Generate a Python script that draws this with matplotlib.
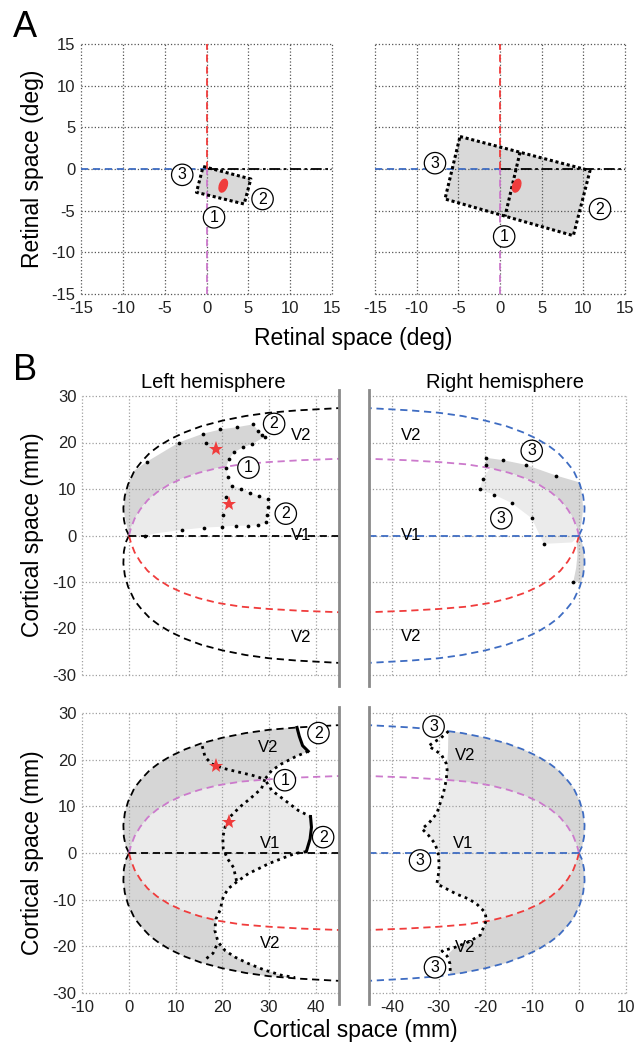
import numpy as np
import matplotlib
matplotlib.use('Agg')
import matplotlib.pyplot as plt
from matplotlib.patches import Ellipse

plt.rcParams['font.family'] = ['Liberation Sans', 'DejaVu Sans']
plt.rcParams['axes.unicode_minus'] = False

BLUE = '#3e6cc2'
RED = '#f03c3c'
MAGENTA = '#cc7acc'
DARK = '#d6d6d6'
LIGHT = '#ebebeb'
DASH = (0, (4, 2.6))
DOTS = (0, (1, 1.5))

# ---------------- panel A: retinal space (deg) ----------------
ret_ticks = [-15, -10, -5, 0, 5, 10, 15]
small_rect_x = [-0.4, 5.3, 4.5, -1.2]
small_rect_y = [0.3, -1.2, -4.2, -2.8]
big_rect_x = [-4.8, 10.8, 8.8, -6.6]
big_rect_y = [3.9, -0.2, -8.0, -3.6]
big_mid_x = [2.4, 0.6]
big_mid_y = [2.0, -5.7]
fix_xy = (2.0, -2.0)
a_left_labels = [('3', -2.9, -0.7), ('2', 6.7, -3.6), ('1', 0.9, -5.8)]
a_right_labels = [('3', -7.8, 0.7), ('2', 12.0, -4.8), ('1', 0.5, -8.1)]

# ---------------- panel B: cortical space (mm) ----------------
# outer V2 border, upper half, left hemisphere (mirrored for the other halves)
v2_x = [0.0, -0.7, -1.1, -1.2, -0.9, -0.2, 1.2, 2.8, 4.5, 6.5, 9.0, 12.0, 15.5, 20.0, 25.0, 30.0, 36.0, 45.0]
v2_y = [0.0, 1.5, 3.5, 6.0, 8.5, 11.0, 14.0, 16.0, 17.8, 19.3, 20.8, 22.2, 23.5, 24.7, 25.7, 26.4, 26.9, 27.4]
# vertical meridian (V1/V2 border), upper half
vm_x = [0.0, 0.4, 1.2, 2.4, 4.0, 6.0, 8.5, 11.5, 15.0, 19.0, 24.0, 30.0, 37.0, 45.0]
vm_y = [0.0, 1.5, 3.6, 5.6, 7.6, 9.3, 10.9, 12.3, 13.5, 14.5, 15.3, 15.8, 16.2, 16.5]

cort_y_ticks = [-30, -20, -10, 0, 10, 20, 30]
left_x_ticks = [-10, 0, 10, 20, 30, 40]
right_x_ticks = [-40, -30, -20, -10, 0, 10]

# top left: small stimulus
tl_dark_x = [-1.2, -0.9, -0.2, 1.2, 3.9, 10.7, 15.9, 19.6, 23.2, 26.6, 27.7, 29.1, 26.4, 24.5, 22.5, 21.4, 20.8]
tl_dark_y = [5.5, 8.5, 11.0, 14.0, 15.9, 20.0, 21.9, 22.8, 23.3, 23.9, 22.5, 21.2, 19.7, 19.0, 17.9, 16.4, 14.6]
tl_light_x = [20.8, 21.3, 22.1, 24.1, 25.9, 27.9, 29.8, 29.7, 29.5, 29.3, 27.7, 25.6, 22.9, 20.0, 16.1, 11.3, 6.0, 3.4]
tl_light_y = [14.6, 12.5, 10.6, 10.1, 9.2, 8.5, 7.8, 6.2, 4.4, 2.8, 2.2, 2.1, 2.1, 1.9, 1.7, 1.2, 0.5, -0.1]
tl_dots_x = [3.9, 10.7, 15.9, 19.6, 23.2, 26.6, 27.7, 28.4, 29.1, 26.4, 24.5, 22.5, 21.4, 20.8, 16.4, 18.6,
             21.3, 22.1, 24.1, 25.9, 27.9, 29.8, 29.7, 29.5, 29.3, 27.7, 25.6, 22.9, 20.0, 16.1, 11.3, 3.4, 20.2, 20.8]
tl_dots_y = [15.9, 20.0, 21.9, 22.8, 23.3, 23.9, 22.5, 21.7, 21.2, 19.7, 19.0, 17.9, 16.4, 14.6, 19.9, 18.6,
             12.5, 10.6, 10.1, 9.2, 8.5, 7.8, 6.2, 4.4, 2.8, 2.2, 2.1, 2.1, 1.9, 1.7, 1.2, -0.1, 4.4, 8.2]
tl_labels = [('2', 31.1, 24.0), ('1', 25.6, 14.6), ('2', 33.6, 4.7)]

# top right
tr_dark_x = [-19.8, -16.2, -11.4, -4.9, 0.2, 0.6, 0.9, 0.6, 0.0]
tr_dark_y = [16.7, 16.2, 15.2, 12.9, 11.4, 9.0, 6.0, 3.0, 0.0]
tr_light_x = [-20.6, -21.2, -18.2, -14.4, -10.1, -7.5, -1.5]
tr_light_y = [12.2, 9.9, 8.8, 7.0, 3.7, -1.8, -1.5]
tr_sliver_x = [0.0, 0.8, 1.2, 1.0, 0.5, -1.2, -0.6, -0.3, -0.5]
tr_sliver_y = [0.0, -2.0, -5.0, -8.0, -10.0, -9.9, -7.0, -4.0, -1.5]
tr_dots_x = [-19.8, -16.2, -11.4, -4.9, -19.9, -20.6, -21.2, -18.2, -14.4, -10.1, -7.5, -1.2]
tr_dots_y = [16.7, 16.2, 15.2, 12.9, 15.2, 12.2, 9.9, 8.8, 7.0, 3.7, -1.8, -9.9]
tr_labels = [('3', -10.1, 18.2), ('3', -16.6, 3.7)]

# bottom left: large stimulus
bl_up_x = [36.5, 37.2, 38.4, 35.6, 32.7, 30.6, 29.1]
bl_up_y = [25.0, 23.0, 21.8, 20.6, 19.1, 17.7, 15.8]
bl_v1_x = [30.6, 33.4, 36.3, 38.9, 39.1, 38.8, 38.0, 35.6, 32.7, 29.9, 27.7, 25.6, 23.1, 21.3, 20.2, 19.5, 18.6]
bl_v1_y = [13.4, 11.3, 9.1, 7.8, 5.5, 3.0, 0.3, -0.1, -1.2, -2.3, -3.4, -4.4, -6.2, -7.6, -9.4, -12.3, -14.2]
bl_low_x = [18.4, 19.1, 20.6, 22.7, 25.6, 29.1, 32.7, 35.6]
bl_low_y = [-16.6, -19.1, -20.9, -22.3, -23.7, -25.1, -26.2, -26.7]
bl_star_v2_x = [15.7, 16.3, 17.7, 20.0, 22.0, 24.5, 26.6, 29.1]
bl_star_v2_y = [22.9, 20.6, 19.1, 18.2, 17.7, 17.1, 16.6, 15.8]
bl_star_v1_x = [29.1, 28.4, 25.9, 23.8, 21.6, 20.6, 20.1, 20.2, 21.1, 22.4, 23.1]
bl_star_v1_y = [15.8, 13.8, 11.6, 9.9, 7.7, 5.6, 3.4, 0.9, -1.2, -3.1, -6.2]
bl_stub_x = [16.6, 18.0, 19.1]
bl_stub_y = [-22.6, -21.5, -19.1]
bl_labels = [('2', 40.6, 25.7), ('1', 33.4, 15.6), ('2', 41.6, 3.4)]

# bottom right
br_up_x = [-27.9, -28.0, -28.2, -28.4]
br_up_y = [26.1, 22.0, 17.8, 15.6]
br_v1_x = [-29.0, -30.4, -32.2, -33.6, -32.2, -30.8, -30.1, -29.9, -30.1, -30.4, -28.3, -26.2, -23.7, -21.9, -20.1, -19.8]
br_v1_y = [12.8, 8.5, 6.3, 5.2, 3.8, 2.0, -0.1, -2.7, -4.8, -6.6, -7.7, -8.8, -9.8, -10.9, -12.7, -14.4]
br_low_x = [-20.4, -21.1, -23.5, -26.5, -27.8, -27.6, -27.5]
br_low_y = [-15.9, -17.6, -19.0, -20.2, -21.5, -23.7, -26.1]
br_dot_top_x = [-27.9, -29.6, -31.1, -32.2, -30.7, -29.4, -28.4, -28.2, -28.4]
br_dot_top_y = [26.1, 24.6, 23.7, 22.9, 22.0, 21.0, 19.2, 17.8, 15.6]
br_dot_low_x = [-19.8, -20.4, -21.1, -23.5, -26.5, -29.3, -28.2, -27.6, -27.5]
br_dot_low_y = [-14.4, -15.9, -17.6, -19.0, -20.2, -21.0, -22.1, -23.7, -26.1]
br_labels = [('3', -31.1, 27.1), ('3', -34.0, -1.6), ('3', -30.8, -24.5)]

stars_x = [18.7, 21.4]
stars_y = [18.7, 6.7]

v_labels_left = [('V2', 36.8, 21.5), ('V1', 36.8, 0.0), ('V2', 36.8, -21.9)]
v_labels_right = [('V2', -35.8, 21.6), ('V1', -35.8, 0.0), ('V2', -35.8, -21.8)]
v_labels_bl = [('V2', 29.9, 22.5), ('V1', 30.2, 2.0), ('V2', 30.2, -19.5)]
v_labels_br = [('V2', -24.4, 21.0), ('V1', -24.7, 2.0), ('V2', -24.4, -20.2)]


def curve(xs, ys, lim, sx=1, sy=1):
    xs = np.asarray(xs, float)
    ys = np.asarray(ys, float)
    keep = np.abs(xs) <= lim
    return sx * xs[keep], sy * ys[keep]


def rev(c):
    return c[0][::-1], c[1][::-1]


def circ(ax, txt, x, y):
    ax.text(x, y, txt, ha='center', va='center', fontsize=11.5, zorder=8,
            bbox=dict(boxstyle='circle,pad=0.2', fc='white', ec='black', lw=0.9))


def style(ax, xt, yt, gridcol, xlab=True, ylab=True):
    ax.set_xticks(xt)
    ax.set_yticks(yt)
    ax.grid(True, ls=':', color=gridcol, lw=0.9)
    for s in ax.spines.values():
        s.set_visible(False)
    ax.tick_params(length=0, labelsize=12, colors='#222222')
    ax.tick_params(axis='x', pad=5)
    ax.tick_params(axis='y', pad=4)
    if not xlab:
        ax.set_xticklabels([])
    if not ylab:
        ax.set_yticklabels([])
    for gl in ax.get_xgridlines() + ax.get_ygridlines():
        gl.set_clip_on(False)


def poly(ax, pieces, color):
    xs = np.concatenate([np.asarray(p[0], float) for p in pieces])
    ys = np.concatenate([np.asarray(p[1], float) for p in pieces])
    ax.fill(xs, ys, facecolor=color, edgecolor='none', zorder=1)


def maps(ax, side):
    sx = 1 if side == 'L' else -1
    col = 'k' if side == 'L' else BLUE
    if side == 'L':
        ax.set_xlim(-10, 45)
    else:
        ax.set_xlim(-45, 10)
    ax.set_ylim(-30, 30)
    vx, vy = np.array(v2_x), np.array(v2_y)
    mx, my = np.array(vm_x), np.array(vm_y)
    ax.plot(sx * vx, vy, color=col, ls=DASH, lw=1.3, zorder=3)
    ax.plot(sx * vx, -vy, color=col, ls=DASH, lw=1.3, zorder=3)
    ax.plot(sx * mx, my, color=MAGENTA, ls=DASH, lw=1.3, zorder=3)
    ax.plot(sx * mx, -my, color=RED, ls=DASH, lw=1.3, zorder=3)
    ax.plot([0, sx * 45], [0, 0], color=col, ls=DASH, lw=1.3, zorder=3)
    ax.plot([sx * 45, sx * 45], [31.3, -32.3], color='#8a8a8a', lw=2.0, clip_on=False, zorder=4)


fig = plt.figure(figsize=(6.38, 10.42), dpi=100)
W, H = 638.0, 1042.0

# ---- panel A
axA1 = fig.add_axes([81 / W, 1 - 294 / H, 251 / W, 250 / H])
axA2 = fig.add_axes([375 / W, 1 - 294 / H, 250 / W, 250 / H])
for ax in (axA1, axA2):
    ax.set_xlim(-15, 15)
    ax.set_ylim(-15, 15)
    style(ax, ret_ticks, ret_ticks, '#555555', ylab=(ax is axA1))
    ax.plot([-15, 0], [0, 0], color=BLUE, ls=DASH, lw=1.3, zorder=3)
    ax.plot([0, 15], [0, 0], color='k', ls=(0, (6, 2, 1.5, 2)), lw=1.3, zorder=3)
    ax.plot([0, 0], [0, 15], color=RED, ls=DASH, lw=1.3, zorder=3)
    ax.plot([0, 0], [-15, 0], color=MAGENTA, ls=DASH, lw=1.3, zorder=3)
    ax.add_patch(Ellipse(fix_xy, 0.9, 1.6, angle=-20, color=RED, zorder=6))

axA1.fill(small_rect_x, small_rect_y, color='#d9d9d9', lw=0, zorder=1)
axA1.plot(small_rect_x + small_rect_x[:1], small_rect_y + small_rect_y[:1],
          color='k', ls=(0, (1, 0.9)), lw=2.2, zorder=5)
axA2.fill(big_rect_x, big_rect_y, color='#d9d9d9', lw=0, zorder=1)
axA2.plot(big_rect_x + big_rect_x[:1], big_rect_y + big_rect_y[:1],
          color='k', ls=(0, (1, 0.9)), lw=2.2, zorder=5)
axA2.plot(big_mid_x, big_mid_y, color='k', ls=(0, (1, 0.9)), lw=2.2, zorder=5)
for t, x, y in a_left_labels:
    circ(axA1, t, x, y)
for t, x, y in a_right_labels:
    circ(axA2, t, x, y)

# ---- panel B
axTL = fig.add_axes([82.3 / W, 1 - 675 / H, 256.7 / W, 279 / H])
axTR = fig.add_axes([368.6 / W, 1 - 675 / H, 257.1 / W, 279 / H])
axBL = fig.add_axes([82.3 / W, 1 - 993 / H, 256.7 / W, 280 / H])
axBR = fig.add_axes([368.6 / W, 1 - 993 / H, 257.1 / W, 280 / H])

style(axTL, left_x_ticks, cort_y_ticks, '#a0a0a0', xlab=False)
style(axTR, right_x_ticks, cort_y_ticks, '#a0a0a0', xlab=False, ylab=False)
style(axBL, left_x_ticks, cort_y_ticks, '#a0a0a0')
style(axBR, right_x_ticks, cort_y_ticks, '#a0a0a0', ylab=False)
for ax, side in ((axTL, 'L'), (axTR, 'R'), (axBL, 'L'), (axBR, 'R')):
    maps(ax, side)

# top left fills and dots
m_up = curve(vm_x, vm_y, 20.8)
poly(axTL, [(tl_dark_x, tl_dark_y), rev(m_up)], DARK)
poly(axTL, [m_up, (tl_light_x, tl_light_y)], LIGHT)
axTL.plot(tl_dots_x, tl_dots_y, 'o', color='k', ms=2.7, mew=0, zorder=5)
for t, x, y in tl_labels:
    circ(axTL, t, x, y)

# top right
m_up = curve(vm_x, vm_y, 20.3, sx=-1)
poly(axTR, [(tr_dark_x, tr_dark_y), m_up, ([-19.9], [15.2])], DARK)
poly(axTR, [m_up, (tr_light_x, tr_light_y)], LIGHT)
poly(axTR, [(tr_sliver_x, tr_sliver_y)], DARK)
axTR.plot(tr_dots_x, tr_dots_y, 'o', color='k', ms=2.7, mew=0, zorder=5)
for t, x, y in tr_labels:
    circ(axTR, t, x, y)

# bottom left: whole patch light, V2 parts dark on top
o_up = curve(v2_x, v2_y, 36.0)
m_up = curve(vm_x, vm_y, 29.0)
m_lo = curve(vm_x, vm_y, 18.5, sy=-1)
o_lo = curve(v2_x, v2_y, 35.5, sy=-1)
poly(axBL, [o_up, (bl_up_x, bl_up_y), (bl_v1_x, bl_v1_y), (bl_low_x, bl_low_y), rev(o_lo)], LIGHT)
poly(axBL, [o_up, (bl_up_x, bl_up_y), rev(m_up)], DARK)
poly(axBL, [m_lo, ([18.6], [-14.2]), (bl_low_x, bl_low_y), rev(o_lo)], DARK)
axBL.plot([36.0] + bl_up_x[:3], [26.9] + bl_up_y[:3], color='k', lw=2.2, zorder=5)
axBL.plot(bl_up_x[2:] + bl_v1_x[:4], bl_up_y[2:] + bl_v1_y[:4], color='k', ls=DOTS, lw=2.0, zorder=5)
axBL.plot(bl_v1_x[3:7], bl_v1_y[3:7], color='k', lw=2.2, zorder=5)
axBL.plot(bl_v1_x[6:] + bl_low_x, bl_v1_y[6:] + bl_low_y, color='k', ls=DOTS, lw=2.0, zorder=5)
axBL.plot(bl_star_v2_x, bl_star_v2_y, color='k', ls=DOTS, lw=2.0, zorder=5)
axBL.plot(bl_star_v1_x, bl_star_v1_y, color='k', ls=DOTS, lw=2.0, zorder=5)
axBL.plot(bl_stub_x, bl_stub_y, color='k', ls=DOTS, lw=2.0, zorder=5)
for t, x, y in bl_labels:
    circ(axBL, t, x, y)

# bottom right
o_up = curve(v2_x, v2_y, 25.0, sx=-1)
m_up = curve(vm_x, vm_y, 28.0, sx=-1)
m_lo = curve(vm_x, vm_y, 19.5, sx=-1, sy=-1)
o_lo = curve(v2_x, v2_y, 25.0, sx=-1, sy=-1)
poly(axBR, [o_up, (br_up_x, br_up_y), (br_v1_x, br_v1_y), (br_low_x, br_low_y), rev(o_lo)], LIGHT)
poly(axBR, [o_up, (br_up_x, br_up_y), rev(m_up)], DARK)
poly(axBR, [m_lo, (br_low_x, br_low_y), rev(o_lo)], DARK)
axBR.plot(br_dot_top_x + br_v1_x + br_dot_low_x, br_dot_top_y + br_v1_y + br_dot_low_y,
          color='k', ls=DOTS, lw=2.0, zorder=5)
for t, x, y in br_labels:
    circ(axBR, t, x, y)

for ax in (axTL, axBL):
    ax.plot(stars_x, stars_y, '*', color=RED, ms=11, mew=0, zorder=6)

for ax, labs in ((axTL, v_labels_left), (axTR, v_labels_right), (axBL, v_labels_bl), (axBR, v_labels_br)):
    for t, x, y in labs:
        ax.text(x, y, t, ha='center', va='center', fontsize=12, zorder=7)

# figure texts
fig.text(13 / W, 1 - 10 / H, 'A', fontsize=26, va='top', ha='left')
fig.text(13 / W, 1 - 353 / H, 'B', fontsize=26, va='top', ha='left')
fig.text(353 / W, 1 - 338 / H, 'Retinal space (deg)', fontsize=16.5, ha='center', va='center')
fig.text(33 / W, 1 - 169 / H, 'Retinal space (deg)', fontsize=16.5, ha='center', va='center', rotation=90)
fig.text(213 / W, 1 - 383 / H, 'Left hemisphere', fontsize=14.5, ha='center', va='center')
fig.text(505 / W, 1 - 383 / H, 'Right hemisphere', fontsize=14.5, ha='center', va='center')
fig.text(33 / W, 1 - 535 / H, 'Cortical space (mm)', fontsize=16.5, ha='center', va='center', rotation=90)
fig.text(33 / W, 1 - 853 / H, 'Cortical space (mm)', fontsize=16.5, ha='center', va='center', rotation=90)
fig.text(355 / W, 1 - 1030 / H, 'Cortical space (mm)', fontsize=16.5, ha='center', va='center')

fig.savefig('out.png', dpi=100)
